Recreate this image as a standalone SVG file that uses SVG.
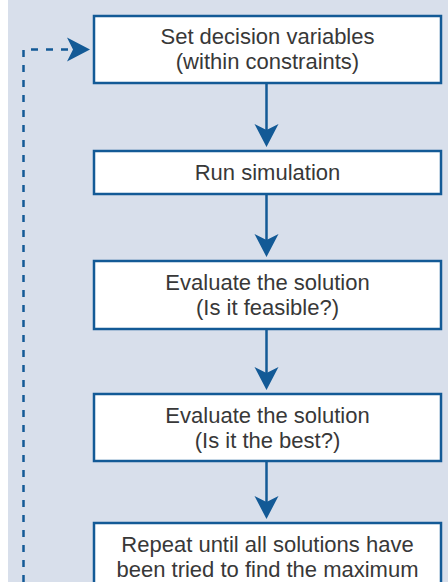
<svg xmlns="http://www.w3.org/2000/svg" width="448" height="582" viewBox="0 0 448 582">
<style>
.box{fill:#ffffff;stroke:#135a96;stroke-width:2.5}
.t{font-family:"Liberation Sans",Arial,sans-serif;font-size:22px;fill:#383838;text-anchor:middle}
.ln{stroke:#135a96;stroke-width:2.5;fill:none}
.dash{stroke:#135a96;stroke-width:2.5;fill:none;stroke-dasharray:7 8}
.ah{fill:#135a96}
</style>
<defs>
<path id="down" d="M0,0 L-12,-23 L0,-17 L12,-23 Z"/>
</defs>
<rect x="8" y="0" width="440" height="582" fill="#d8dfeb"/>
<g id="connectors">
<line class="ln" x1="266.5" y1="83" x2="266.5" y2="135"/>
<use href="#down" class="ah" x="266.5" y="147"/>
<line class="ln" x1="266.5" y1="195" x2="266.5" y2="245"/>
<use href="#down" class="ah" x="266.5" y="257"/>
<line class="ln" x1="266.5" y1="329" x2="266.5" y2="378"/>
<use href="#down" class="ah" x="266.5" y="390"/>
<line class="ln" x1="266.5" y1="461" x2="266.5" y2="507"/>
<use href="#down" class="ah" x="266.5" y="519"/>
<path class="dash" d="M23.5,582 L23.5,49.5 L72,49.5"/>
<path class="ah" d="M90,49.5 L67,37.5 L73,49.5 L67,61.5 Z"/>
</g>
<g id="n1">
<rect class="box" x="94" y="16" width="347" height="67"/>
<text class="t" x="267.5" y="44">Set decision variables</text>
<text class="t" x="267.5" y="69">(within constraints)</text>
</g>
<g id="n2">
<rect class="box" x="94" y="151" width="347" height="43"/>
<text class="t" x="267.5" y="180">Run simulation</text>
</g>
<g id="n3">
<rect class="box" x="94" y="261" width="347" height="68"/>
<text class="t" x="267.5" y="290">Evaluate the solution</text>
<text class="t" x="267.5" y="315">(Is it feasible?)</text>
</g>
<g id="n4">
<rect class="box" x="94" y="394" width="347" height="67"/>
<text class="t" x="267.5" y="423">Evaluate the solution</text>
<text class="t" x="267.5" y="448">(Is it the best?)</text>
</g>
<g id="n5">
<rect class="box" x="94" y="523" width="347" height="80"/>
<text class="t" x="267.5" y="552">Repeat until all solutions have</text>
<text class="t" x="267.5" y="577">been tried to find the maximum</text>
</g>
</svg>
